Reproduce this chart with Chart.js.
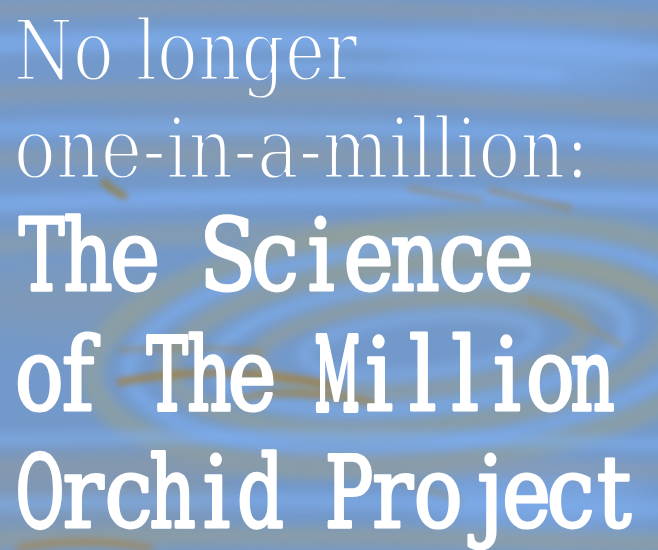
<!DOCTYPE html>
<html><head><meta charset="utf-8">
<script src="https://cdn.jsdelivr.net/npm/chart.js@4"></script>
<style>html,body{margin:0;padding:0;background:#6f9dd2;overflow:hidden}#wrap{width:658px;height:550px;position:relative}</style>
</head><body><div id="wrap"><canvas id="c"></canvas></div>
<script>
// Text content
const lightLines = ["No longer", "one-in-a-million:"];
const boldLines = ["The Science", "of The Million", "Orchid Project"];

// Layout (ink box of each line: left, top of caps/ascenders, baseline, right)
const lightBoxes = [
  {x: 17, top: 16, base: 80, right: 358},
  {x: 17, top: 114, base: 178, right: 582}
];
const boldBoxes = [
  {x: 20, top: 218, base: 290, right: 530},
  {x: 20, top: 336, base: 410, right: 612},
  {x: 20, top: 454, base: 527, right: 635}
];

const FAM = '"DejaVu Serif", serif';

// light lines: proportional serif, thinned by erasing a stroke around the glyph outlines
function drawLight(ctx, text, box, W, H) {
  const off = document.createElement('canvas');
  off.width = W; off.height = H;
  const o = off.getContext('2d');
  const ref = 100;
  o.font = 'normal ' + ref + 'px ' + FAM;
  let m = o.measureText(text);
  const size = ref * (box.base - box.top) / m.actualBoundingBoxAscent;
  o.font = 'normal ' + size + 'px ' + FAM;
  m = o.measureText(text);
  const inkW = m.actualBoundingBoxLeft + m.actualBoundingBoxRight;
  const sx = (box.right - box.x) / inkW;
  o.save();
  o.translate(box.x, box.base);
  o.scale(sx, 1);
  o.fillStyle = '#ffffff';
  o.fillText(text, m.actualBoundingBoxLeft, 0);
  o.globalCompositeOperation = 'destination-out';
  o.lineJoin = 'round';
  o.lineWidth = 2.8;
  o.strokeText(text, m.actualBoundingBoxLeft, 0);
  o.restore();
  ctx.drawImage(off, 0, 0);
}

// bold lines: typewriter style, each character centred in an equal cell
function drawMono(ctx, text, box) {
  const ref = 100;
  ctx.font = 'normal ' + ref + 'px ' + FAM;
  const hm = ctx.measureText('H');
  const size = ref * (box.base - box.top) / hm.actualBoundingBoxAscent;
  ctx.font = 'normal ' + size + 'px ' + FAM;
  const pad = 2;
  const n = text.length;
  const cell = (box.right - box.x + 2 * pad) / n;
  const baseSx = 0.86;
  ctx.fillStyle = '#ffffff';
  ctx.strokeStyle = '#ffffff';
  ctx.lineJoin = 'round';
  ctx.lineCap = 'round';
  for (let i = 0; i < n; i++) {
    const ch = text[i];
    if (ch === ' ') continue;
    const m = ctx.measureText(ch);
    const w = m.actualBoundingBoxLeft + m.actualBoundingBoxRight;
    const sx = Math.min(baseSx, (cell - 2) / w);
    const cx = box.x - pad + cell * (i + 0.5);
    ctx.save();
    ctx.translate(cx, box.base);
    ctx.scale(sx, 1);
    const xo = (m.actualBoundingBoxLeft - m.actualBoundingBoxRight) / 2;
    ctx.fillText(ch, xo, 0);
    ctx.lineWidth = 2.5 / sx;
    ctx.strokeText(ch, xo, 0);
    ctx.restore();
  }
}

function band(ctx, pts, color, width, alpha) {
  ctx.save();
  ctx.globalAlpha = alpha;
  ctx.strokeStyle = color;
  ctx.lineWidth = width;
  ctx.lineCap = 'round';
  ctx.beginPath();
  ctx.moveTo(pts[0], pts[1]);
  for (let i = 2; i < pts.length; i += 4) {
    ctx.quadraticCurveTo(pts[i], pts[i + 1], pts[i + 2], pts[i + 3]);
  }
  ctx.stroke();
  ctx.restore();
}

function blob(ctx, x, y, rx, ry, rot, color, alpha) {
  ctx.save();
  ctx.globalAlpha = alpha;
  ctx.fillStyle = color;
  ctx.beginPath();
  ctx.ellipse(x, y, rx, ry, rot, 0, Math.PI * 2);
  ctx.fill();
  ctx.restore();
}

const backgroundPlugin = {
  id: 'bg',
  beforeDraw(chart) {
    const ctx = chart.ctx;
    const W = chart.width, H = chart.height;
    ctx.save();
    ctx.fillStyle = '#7399cb';
    ctx.fillRect(0, 0, W, H);
    // soft grey / light patches
    ctx.filter = 'blur(18px)';
    blob(ctx, 90, 490, 150, 45, 0, '#8b98a2', 0.55);
    blob(ctx, 60, 300, 110, 30, 0, '#8a99a6', 0.5);
    blob(ctx, 250, 140, 160, 25, 0, '#8c9aa6', 0.45);
    blob(ctx, 520, 60, 130, 30, 0, '#7eaef0', 0.6);
    blob(ctx, 540, 500, 120, 35, 0, '#7dadef', 0.55);
    blob(ctx, 470, 280, 160, 28, 0.1, '#939d94', 0.45);
    ctx.filter = 'blur(6px)';
    // grey horizontal streaks
    band(ctx, [-20, 10, 300, 0, 680, 22], '#8a9aaa', 16, 0.7);
    band(ctx, [-20, 95, 320, 85, 680, 112], '#8b9aa8', 18, 0.65);
    band(ctx, [-20, 160, 300, 150, 680, 172], '#8c9ba6', 20, 0.6);
    band(ctx, [-20, 245, 250, 225, 420, 240, 560, 250, 680, 300], '#8e9ca4', 22, 0.6);
    // light blue streaks
    band(ctx, [-20, 45, 300, 30, 680, 55], '#7dacee', 18, 0.8);
    band(ctx, [-20, 130, 300, 120, 680, 140], '#7badee', 14, 0.7);
    band(ctx, [-20, 205, 300, 190, 680, 200], '#7eaff2', 14, 0.8);
    band(ctx, [200, 70, 400, 62, 560, 75], '#80b0f2', 10, 0.7);
    // swirl rings
    const rings = [[420, 345, 330, 118, '#9ba28c', 24, 0.55], [420, 345, 292, 100, '#7eaef0', 14, 0.7],
                   [420, 345, 252, 82, '#9aa08a', 20, 0.55], [420, 345, 208, 62, '#80b0f0', 12, 0.7],
                   [420, 345, 165, 45, '#9c9f88', 16, 0.55], [420, 345, 118, 28, '#82b0ee', 10, 0.65]];
    for (const r of rings) {
      ctx.save();
      ctx.globalAlpha = r[6];
      ctx.strokeStyle = r[4];
      ctx.lineWidth = r[5];
      ctx.beginPath();
      ctx.ellipse(r[0], r[1], r[2], r[3], -0.1, 0, Math.PI * 2);
      ctx.stroke();
      ctx.restore();
    }
    // lower streaks
    band(ctx, [-20, 440, 300, 432, 680, 445], '#7eaeee', 12, 0.7);
    band(ctx, [-20, 470, 300, 458, 680, 472], '#8b9aa8', 18, 0.6);
    band(ctx, [-20, 505, 300, 495, 680, 510], '#7eaeee', 14, 0.65);
    band(ctx, [-20, 540, 300, 530, 680, 545], '#969f92', 20, 0.6);
    // brown / amber streaks
    ctx.filter = 'blur(3px)';
    band(ctx, [120, 350, 200, 345, 260, 352], '#a0844c', 5, 0.55);
    band(ctx, [120, 382, 220, 362, 330, 385], '#a57c32', 7, 0.8);
    band(ctx, [240, 398, 310, 385, 380, 405], '#a67d32', 6, 0.7);
    band(ctx, [104, 182, 112, 190, 124, 196], '#9c7826', 6, 0.85);
    band(ctx, [410, 188, 450, 196, 480, 200], '#9a8458', 5, 0.6);
    band(ctx, [490, 190, 530, 200, 570, 208], '#9e8048', 5, 0.6);
    band(ctx, [20, 548, 80, 536, 150, 548], '#a88040', 7, 0.6);
    band(ctx, [530, 300, 580, 320, 620, 345], '#9c8f6a', 8, 0.45);
    band(ctx, [400, 480, 430, 490, 460, 500], '#a08850', 5, 0.5);
    ctx.restore();
  },
  afterDraw(chart) {
    const ctx = chart.ctx;
    ctx.save();
    lightLines.forEach((t, i) => drawLight(ctx, t, lightBoxes[i], chart.width, chart.height));
    boldLines.forEach((t, i) => drawMono(ctx, t, boldBoxes[i]));
    ctx.restore();
  }
};

new Chart(document.getElementById('c'), {
  type: 'scatter',
  data: { datasets: [{ data: [] }] },
  options: {
    responsive: true,
    maintainAspectRatio: false,
    animation: false,
    layout: { padding: 0 },
    plugins: { legend: { display: false }, tooltip: { enabled: false }, title: { display: false } },
    scales: { x: { display: false }, y: { display: false } }
  },
  plugins: [backgroundPlugin]
});
</script>
</body></html>
